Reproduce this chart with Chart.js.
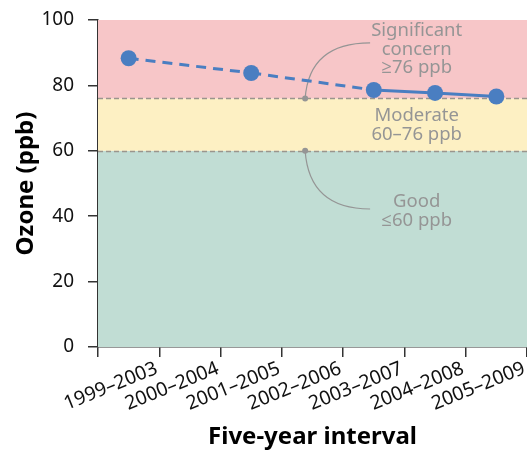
<!DOCTYPE html>
<html>
<head>
<meta charset="utf-8">
<script src="https://cdn.jsdelivr.net/npm/chart.js@4.4.1/dist/chart.umd.min.js"></script>
<style>
  html, body { margin: 0; padding: 0; background: #fff; }
  #wrap { width: 527px; height: 452px; }
</style>
</head>
<body>
<div id="wrap"><canvas id="ozone"></canvas></div>
<script>
// Intervalos de cinco años y promedio de ozono (ppb)
var intervalos = ['1999\u20132003', '2000\u20132004', '2001\u20132005', '2002\u20132006',
                  '2003\u20132007', '2004\u20132008', '2005\u20132009'];
var ozono = [88.3, null, 83.8, null, 78.6, 77.7, 76.6];

// Límites de las categorías de calidad del aire
var limites = [60, 76];
var textoSignificativo = ['Significant', 'concern', '\u226576 ppb'];
var textoModerado = ['Moderate', '60\u201376 ppb'];
var textoBueno = ['Good', '\u226460 ppb'];

var FUENTE = '"Noto Sans", "Open Sans", sans-serif';
var GRIS = '#959595';

// Dibuja las franjas de color, las líneas discontinuas y las etiquetas
var franjas = {
    id: 'franjas',
    beforeDatasetsDraw: function(chart) {
        var c = chart.ctx, a = chart.chartArea, y = chart.scales.y;
        var y60 = y.getPixelForValue(limites[0]);
        var y76 = y.getPixelForValue(limites[1]);
        c.save();
        c.fillStyle = '#c1ddd4';
        c.fillRect(a.left, y60, a.right - a.left, a.bottom - y60);
        c.fillStyle = '#fdf0c3';
        c.fillRect(a.left, y76, a.right - a.left, y60 - y76);
        c.fillStyle = '#f7c6c8';
        c.fillRect(a.left, a.top, a.right - a.left, y76 - a.top);

        c.strokeStyle = '#9a958c';
        c.lineWidth = 1.3;
        c.setLineDash([5, 3]);
        [y60, y76].forEach(function(py) {
            c.beginPath();
            c.moveTo(a.left, Math.round(py) + 0.5);
            c.lineTo(a.right, Math.round(py) + 0.5);
            c.stroke();
        });
        c.setLineDash([]);

        var x = chart.scales.x;
        var dotX = x.getPixelForValue(2.88);
        var endX = x.getPixelForValue(3.94);

        // Curvas de referencia
        c.strokeStyle = GRIS;
        c.lineWidth = 1.2;
        c.beginPath();
        c.moveTo(dotX, y76);
        c.quadraticCurveTo(dotX + 4, y.getPixelForValue(93), endX, y.getPixelForValue(93));
        c.stroke();
        c.beginPath();
        c.moveTo(dotX, y60);
        c.quadraticCurveTo(dotX + 4, y.getPixelForValue(42.2), endX, y.getPixelForValue(42.2));
        c.stroke();

        c.fillStyle = GRIS;
        [y76, y60].forEach(function(py) {
            c.beginPath();
            c.arc(dotX, py, 3, 0, Math.PI * 2);
            c.fill();
        });

        // Etiquetas de las categorías
        var tx = x.getPixelForValue(4.7);
        c.font = '18.5px ' + FUENTE;
        c.textAlign = 'center';
        c.textBaseline = 'middle';
        function lineas(textos, valor) {
            var py = y.getPixelForValue(valor);
            textos.forEach(function(t, i) {
                c.fillText(t, tx, py + i * 18.5);
            });
        }
        lineas(textoSignificativo, 96.7);
        lineas(textoModerado, 70.7);
        lineas(textoBueno, 44.4);
        c.restore();
    }
};

var ctx = document.getElementById('ozone').getContext('2d');
var grafico = new Chart(ctx, {
    type: 'line',
    data: {
        labels: intervalos,
        datasets: [{
            label: 'Ozono (ppb)',
            data: ozono,
            spanGaps: true,
            borderColor: '#4a7ec1',
            backgroundColor: '#4a7ec1',
            borderWidth: 3,
            pointRadius: 8,
            pointHoverRadius: 8,
            pointBorderWidth: 0,
            tension: 0,
            clip: false,
            segment: {
                // los tramos que saltan un intervalo sin dato van discontinuos
                borderDash: function(s) {
                    return ozono[s.p0DataIndex] === null ? [10, 7] : undefined;
                }
            }
        }]
    },
    options: {
        responsive: true,
        maintainAspectRatio: false,
        animation: false,
        layout: { autoPadding: false, padding: { top: 20, right: 0, left: 0, bottom: 0 } },
        plugins: {
            legend: { display: false },
            tooltip: { enabled: false }
        },
        scales: {
            x: {
                offset: true,
                grid: {
                    offset: true,
                    drawOnChartArea: false,
                    drawTicks: true,
                    tickLength: 10,
                    color: '#333',
                    lineWidth: 1.5
                },
                border: { color: '#333', width: 1.5 },
                ticks: {
                    color: '#111',
                    font: { family: FUENTE, size: 19.5 },
                    maxRotation: 22,
                    minRotation: 22,
                    labelOffset: 28,
                    padding: 0,
                    autoSkip: false
                },
                title: {
                    display: true,
                    text: 'Five-year interval',
                    color: '#000',
                    font: { family: FUENTE, size: 24, weight: 'bold' },
                    padding: { top: 0, bottom: 0 }
                },
                afterFit: function(s) {
                    s.height = 105;
                    s.paddingLeft = 0;
                    s.paddingRight = 0;
                }
            },
            y: {
                min: 0,
                max: 100,
                grid: {
                    drawOnChartArea: false,
                    drawTicks: true,
                    tickLength: 10,
                    color: '#333',
                    lineWidth: 1.5
                },
                border: { color: '#333', width: 1.5 },
                ticks: {
                    stepSize: 20,
                    color: '#111',
                    font: { family: FUENTE, size: 19 },
                    padding: 14
                },
                title: {
                    display: true,
                    text: 'Ozone (ppb)',
                    color: '#000',
                    font: { family: FUENTE, size: 24, weight: 'bold' },
                    padding: { top: 12, bottom: 0 }
                },
                afterFit: function(s) {
                    s.width = 98;
                    s.paddingTop = 0;
                    s.paddingBottom = 0;
                }
            }
        }
    },
    plugins: [franjas]
});
</script>
</body>
</html>
